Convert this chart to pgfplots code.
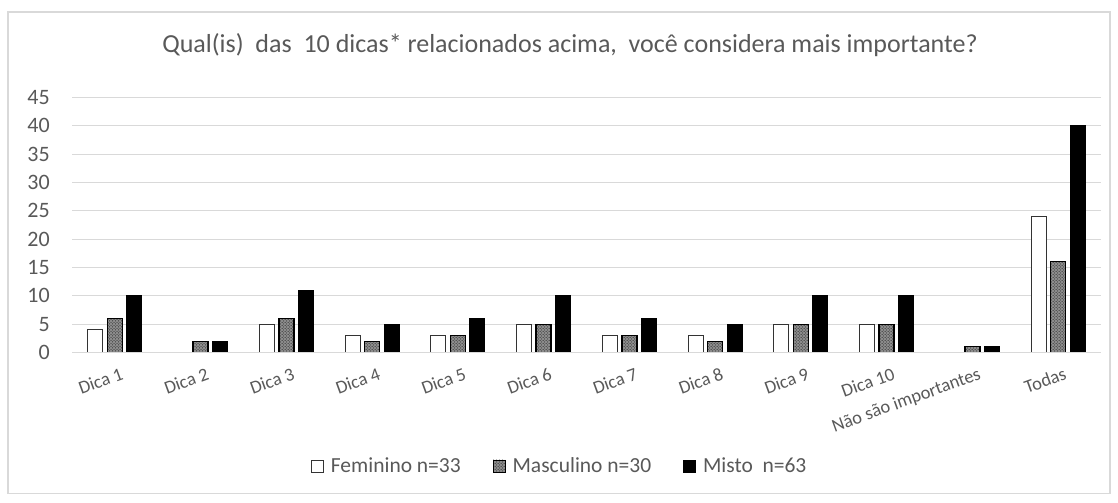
\documentclass[border=0pt]{standalone}
\usepackage{fontspec}
\setmainfont{Carlito}
\usepackage{pgfplots}
\pgfplotsset{compat=1.18}
\usetikzlibrary{patterns}
\definecolor{txt}{HTML}{595959}
\definecolor{gridc}{HTML}{D9D9D9}
\begin{document}
\begin{tikzpicture}
\begin{axis}[
  name=ax,
  scale only axis,
  width=1029pt, height=255pt,
  ybar=4.5pt, bar width=15pt,
  xmin=-0.5, xmax=11.5, ymin=0, ymax=45,
  xtick={0,...,11},
  xticklabels={Dica 1,Dica 2,Dica 3,Dica 4,Dica 5,Dica 6,Dica 7,Dica 8,Dica 9,Dica 10,Não são importantes,Todas},
  ytick={0,5,...,45},
  major tick length=0pt,
  axis line style={draw=none},
  ymajorgrids, xmajorgrids=false, grid style={draw=gridc, line width=0.8pt},
  tick label style={text=txt},
  yticklabel style={font=\fontsize{22}{24}\selectfont, anchor=east, inner sep=0pt, xshift=-22pt},
  xticklabel style={font=\fontsize{18.5}{20}\selectfont, rotate=20, anchor=north east, inner sep=0pt, yshift=-15pt},
  /pgf/number format/assume math mode=true,
  legend style={at={(0.474,-0.445)}, anchor=center, draw=none, legend columns=3, font=\fontsize{21.5}{23}\selectfont, text=txt, /tikz/every odd column/.append style={column sep=5pt}, /tikz/every even column/.append style={column sep=30pt}},
  legend image code/.code={\draw[#1, line width=0.8pt] (1pt,-6pt) rectangle (13pt,6pt);},
  clip=false,
]
\addplot[draw=black!80, fill=white, line width=1pt] coordinates {(0,4) (1,0) (2,5) (3,3) (4,3) (5,5) (6,3) (7,3) (8,5) (9,5) (10,0) (11,24)};
\addplot[draw=black, line width=1.3pt, fill=black!45, postaction={pattern=crosshatch dots, pattern color=black!90}] coordinates {(0,6) (1,2) (2,6) (3,2) (4,3) (5,5) (6,3) (7,2) (8,5) (9,5) (10,1) (11,16)};
\addplot[draw=black, fill=black, line width=0.8pt] coordinates {(0,10) (1,2) (2,11) (3,5) (4,6) (5,10) (6,6) (7,5) (8,10) (9,10) (10,1) (11,40)};
\legend{Feminino n=33, Masculino n=30, Misto \ n=63}
\draw[gridc, line width=0.8pt] (rel axis cs:0,0) -- (rel axis cs:1,0);
\end{axis}
\draw[gridc, line width=1.2pt] ([shift={(-64pt,-141pt)}]ax.south west) rectangle ([shift={(9pt,85.5pt)}]ax.north east);
\path ([shift={(-72pt,-150pt)}]ax.south west) rectangle ([shift={(17pt,97.5pt)}]ax.north east);
\node[text=txt, font=\fontsize{26}{28}\selectfont] at ([shift={(-16.5pt,52pt)}]ax.north) {Qual(is) \ das \ 10 dicas* relacionados acima, \ você considera mais importante?};
\end{tikzpicture}
\end{document}
